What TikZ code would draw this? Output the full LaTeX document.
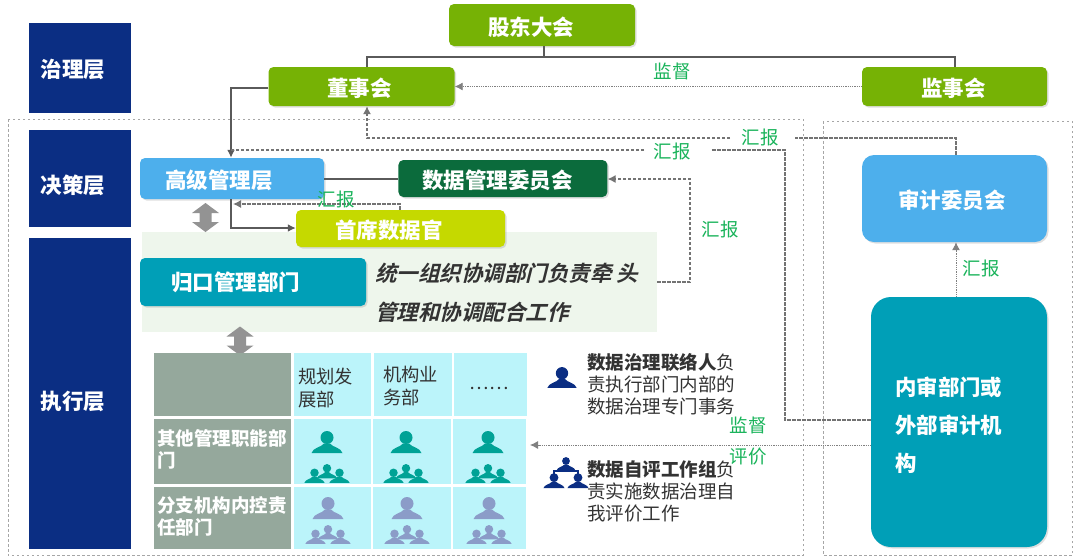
\documentclass[tikz,border=0pt]{standalone}
\usepackage{fontspec}
\setmainfont{Noto Sans CJK SC}
\newfontfamily\slantbold[FakeSlant=0.25]{Noto Sans CJK SC Bold}
\usepackage{xcolor}
\usepackage{tikz}
\usetikzlibrary{arrows.meta,calc,positioning,shadows}
\definecolor{layernavy}{HTML}{0B2E83}
\definecolor{boardgreen}{HTML}{76B205}
\definecolor{committeegreen}{HTML}{0B6B3C}
\definecolor{chieflime}{HTML}{C5D900}
\definecolor{seniorblue}{HTML}{4DAFEC}
\definecolor{auditteal}{HTML}{009FB7}
\definecolor{panelgreen}{HTML}{EEF6EC}
\definecolor{tablegray}{HTML}{95A89C}
\definecolor{tablecyan}{HTML}{BBF4FA}
\definecolor{labelgreen}{HTML}{19B35A}
\definecolor{icontealc}{HTML}{00A296}
\definecolor{iconslate}{HTML}{8B9CC8}
\definecolor{linegray}{HTML}{5A5A5A}
\definecolor{darktext}{HTML}{333333}
\tikzset{
  titlefont/.style={font=\fontsize{21.5}{21.5}\selectfont\bfseries},
  layerbox/.style={fill=layernavy,text=white,titlefont,minimum width=102pt,inner sep=0pt,text width=78pt,text depth=0pt},
  flowbox/.style={text=white,titlefont,inner sep=0pt,rounded corners=5pt,text height=20pt,text depth=0pt,drop shadow={shadow xshift=1.5pt,shadow yshift=-1.5pt,opacity=.25}},
  greenbox/.style={flowbox,fill=boardgreen,minimum width=186pt,minimum height=40pt},
  tablehead/.style={fill=tablegray,inner sep=0pt,minimum width=137pt},
  headtext/.style={text=white,font=\fontsize{18.5}{22}\selectfont\bfseries,align=left,inner sep=0pt,anchor=west},
  tablecell/.style={fill=tablecyan,inner sep=0pt},
  celltext/.style={text=darktext,font=\fontsize{18.3}{23}\selectfont,align=left,inner sep=0pt,anchor=west},
  solidline/.style={line width=2pt,linegray},
  solidarrow/.style={solidline,-{Latex[length=8pt,width=8pt]}},
  dashline/.style={line width=1.2pt,linegray!85,dash pattern=on 3.5pt off 1.5pt},
  dasharrow/.style={dashline,-{Latex[length=8pt,width=8pt]}},
  dotarrow/.style={line width=.9pt,gray,dash pattern=on 1pt off .8pt,-{Latex[length=8pt,width=8pt]}},
  regionbox/.style={draw=gray!70,line width=.8pt,dash pattern=on 2.5pt off 2.5pt},
  linelabel/.style={text=labelgreen,font=\fontsize{18.5}{18.5}\selectfont,inner sep=0pt},
  infotext/.style={text=darktext,font=\fontsize{18.5}{22}\selectfont,align=left,inner sep=0pt,anchor=west},
  updown/.pic={
    \fill[gray!85] (0,-14.5) -- (13.5,-4.5) -- (6,-4.5) -- (6,4.5) -- (13.5,4.5) -- (0,14.5) -- (-13.5,4.5) -- (-6,4.5) -- (-6,-4.5) -- (-13.5,-4.5) -- cycle;
  },
  person/.pic={
    \fill (0,-5) ellipse (6.5 and 6.5);
    \fill (-15.5,10.5) .. controls (-14,5) and (-6,5) .. (-3,1) -- (3,1) .. controls (6,5) and (14,5) .. (15.5,10.5) -- cycle;
  },
  persongroup/.pic={
    \pic[scale=.65] at (-12.5,4.5) {person};
    \pic[scale=.65] at (12.5,4.5) {person};
    \pic[scale=.65] at (0,0) {person};
  },
  orgperson/.pic={
    \pic[scale=.6] at (0,-9) {person};
    \pic[scale=.68] at (-12,8) {person};
    \pic[scale=.68] at (12,8) {person};
    \draw[line width=2pt,draw=layernavy] (-12,2) -- (-12,-2) -- (12,-2) -- (12,2);
  }
}

\begin{document}
\begin{tikzpicture}[x=1pt,y=-1pt]
  \useasboundingbox (0,0) rectangle (1080,558);
  % regions
  \draw[regionbox] (8,119) rectangle (803,555);
  \draw[regionbox] (823,121) rectangle (1072,555);
  % layers
  \node[layerbox,minimum height=90pt,text height=18.4pt] (govern) at (80,68) {治理层};
  \node[layerbox,minimum height=97pt,text height=29pt] (decide) at (80,178.5) {决策层};
  \node[layerbox,minimum height=311pt,text height=32.4pt] (execute) at (80,393.5) {执行层};
  % top boxes
  \node[greenbox,minimum height=42pt,text width=108pt] (meeting) at (542,25) {股东大会};
  \node[greenbox,minimum height=39pt,text width=69pt] (board) at (361.5,86.5) {董事会};
  \node[greenbox,minimum height=39pt,minimum width=185pt,text width=67pt] (supervisor) at (954.5,86.5) {监事会};
  \node[flowbox,fill=seniorblue,minimum width=184pt,minimum height=41pt,text width=134pt] (senior) at (232,178.5) {高级管理层};
  \node[flowbox,fill=committeegreen,right=74pt of senior,minimum width=209pt,minimum height=37pt,text width=161pt] (committee) {数据管理委员会};
  % execution panel
  \fill[panelgreen] (142,232) rectangle (657,332);
  \coordinate (panelout) at (657,282);
  \node[flowbox,fill=chieflime,minimum width=209pt,minimum height=37pt,text width=131pt] (chief) at (400.5,228.5) {首席数据官};
  \node[flowbox,fill=auditteal,minimum width=226pt,minimum height=48pt,text width=164pt,text height=16.4pt] (central) at (253,282) {归口管理部门};
  \node[anchor=west,inner sep=0pt,align=left,font=\fontsize{21.5}{39}\selectfont\slantbold,text=darktext] (centraltext) at (375,293) {统一组织协调部门负责牵 头\\管理和协调配合工作};
  % audit side
  \node[flowbox,fill=seniorblue,minimum width=185pt,minimum height=87pt,rounded corners=12pt,text width=113pt] (auditcomm) at (954.5,198.5) {审计委员会};
  \node[flowbox,fill=auditteal,minimum width=176pt,minimum height=250pt,rounded corners=20pt] (internal) at (959,422) {};
  \node[anchor=west,inner sep=0pt,align=left,text=white,font=\fontsize{21.4}{38}\selectfont\bfseries] (internaltext) at (895,425) {内审部门或\\外部审计机\\构};
  % connectors
  \coordinate (busbar) at (544,57);
  \draw[solidline] (meeting.south -| busbar) -- (busbar);
  \draw[solidline] ([xshift=5.5pt]board.north) |- (busbar) -| (supervisor.north);
  \coordinate (boardturn) at (231,88);
  \draw[solidarrow] (board.west |- boardturn) -- (boardturn) -- (boardturn |- senior.north);
  \draw[dotarrow] (supervisor.west) -- (board.east);
  \coordinate (auditup) at (956,138);
  \coordinate (gaponeright) at (795,138);
  \coordinate (gaponeleft) at (730,138);
  \draw[dashline] (auditcomm.north -| auditup) -- (auditup) -- (gaponeright);
  \draw[dasharrow] (gaponeleft) -| ([xshift=5.5pt]board.south);
  \coordinate (reportturn) at (785,150);
  \coordinate (gaptworight) at (711,150);
  \coordinate (gaptwoleft) at (644,150);
  \draw[dashline] (internal.west |- 0,420) -| (reportturn) -- (gaptworight);
  \draw[dashline] (gaptwoleft) -- (boardturn |- reportturn);
  \draw[solidline] (senior.east) -- (committee.west);
  \coordinate (chiefup) at (400,204);
  \draw[dasharrow] (chief.north -| chiefup) -- (chiefup) -- (233,204);
  \coordinate (seniordown) at (231,228);
  \draw[solidarrow] (seniordown |- senior.south) -- (seniordown) -- (chief.west |- seniordown);
  \coordinate (panelturn) at (690,179);
  \draw[dasharrow] (panelout) -| (panelturn) -- (committee.east |- panelturn);
  \draw[dotarrow] ([xshift=1.5pt]auditcomm.south |- internal.north) -- ([xshift=1.5pt]auditcomm.south);
  \coordinate (tablein) at (530,445);
  \draw[dotarrow] (internal.west |- tablein) -- (tablein);
  % labels
  \node[linelabel] (reportone) at (760,137) {汇报};
  \node[linelabel] (reporttwo) at (672,151) {汇报};
  \node[linelabel] (reportthree) at (336,199) {汇报};
  \node[linelabel] (reportfour) at (720,229) {汇报};
  \node[linelabel] (reportfive) at (981,268) {汇报};
  \node[linelabel] (watchone) at (672,71) {监督};
  \node[linelabel] (watchtwo) at (748,425) {监督};
  \node[linelabel] (evaluate) at (748,457) {评价};
  % updown arrows
  \pic at (205.5,217.5) {updown};
  \pic at (240,341) {updown};
  % table
  \node[tablehead,minimum height=63pt] (corner) at (222.5,384.5) {};
  \node[tablecell,right=3pt of corner,minimum width=77pt,minimum height=63pt] (plan) {};
  \node[tablecell,right=2pt of plan,minimum width=78pt,minimum height=63pt] (business) {};
  \node[tablecell,right=2pt of business,minimum width=73pt,minimum height=63pt] (etc) {};
  \node[celltext] (plantext) at (298,388.5) {规划发\\展部};
  \node[celltext] (businesstext) at (383,386) {机构业\\务部};
  \node[celltext,anchor=center] (etctext) at (489,388) {……};
  \node[tablehead,minimum height=65pt] (otherdept) at (222.5,451.5) {};
  \node[headtext] (otherdepttext) at (157,449.5) {其他管理职能部\\门};
  \node[tablecell,minimum width=77pt,minimum height=65pt] (planone) at (332.5,451.5) {};
  \node[tablecell,minimum width=78pt,minimum height=65pt] (busone) at (412,451.5) {};
  \node[tablecell,minimum width=73pt,minimum height=65pt] (etcone) at (489.5,451.5) {};
  \node[tablehead,minimum height=62pt] (branch) at (222.5,518) {};
  \node[headtext] (branchtext) at (157,516.5) {分支机构内控责\\任部门};
  \node[tablecell,minimum width=77pt,minimum height=62pt] (plantwo) at (332.5,518) {};
  \node[tablecell,minimum width=78pt,minimum height=62pt] (bustwo) at (412,518) {};
  \node[tablecell,minimum width=73pt,minimum height=62pt] (etctwo) at (489.5,518) {};
  \foreach \px in {327,406,488} {
    \pic[fill=icontealc] at (\px,442.5) {person};
    \pic[fill=icontealc] at (\px,471.5) {persongroup};
    \pic[fill=iconslate] at (\px+1,508.5) {person};
    \pic[fill=iconslate] at (\px+1,532.5) {persongroup};
  }
  % right notes
  \pic[fill=layernavy,scale=.95] at (562,378) {person};
  \node[infotext] (liaison) at (587,384) {\textbf{数据治理联络人}负\\责执行部门内部的\\数据治理专门事务};
  \pic[fill=layernavy] at (566,473) {orgperson};
  \node[infotext] (selfeval) at (587,491) {\textbf{数据自评工作组}负\\责实施数据治理自\\我评价工作};
\end{tikzpicture}
\end{document}
